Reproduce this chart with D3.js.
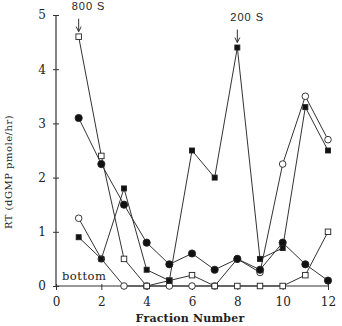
<!DOCTYPE html>
<html>
<head>
<meta charset="utf-8">
<script src="https://cdn.jsdelivr.net/npm/d3@7"></script>
<style>
  body { margin: 0; background: #fff; }
  svg { display: block; }
</style>
</head>
<body>
<div id="container"></div>
<script>
const fractions = [1, 2, 3, 4, 5, 6, 7, 8, 9, 10, 11, 12];
const openSquare = [4.6, 2.4, 0.5, 0, 0.1, 0.2, 0, 0, 0, 0, 0.2, 1.0];
const filledCircle = [3.1, 2.25, 1.5, 0.8, 0.4, 0.6, 0.3, 0.5, 0.3, 0.8, 0.4, 0.1];
const filledSquare = [0.9, 0.5, 1.8, 0.3, 0.1, 2.5, 2.0, 4.4, 0.5, 0.7, 3.3, 2.5];
const openCircle = [1.25, 0.5, 0, 0, 0, 0, 0, 0.5, 0.25, 2.25, 3.5, 2.7];
const xTicks = [0, 2, 4, 6, 8, 10, 12];
const yTicks = [0, 1, 2, 3, 4, 5];
const markers = [
  { label: "800 S", fraction: 1, value: 4.6 },
  { label: "200 S", fraction: 8, value: 4.4 }
];

const w = 342;
const h = 326;

const svg = d3.select("#container")
  .append("svg")
  .attr("width", w)
  .attr("height", h);

const x = d3.scaleLinear().domain([0, 12]).range([56, 328]);
const y = d3.scaleLinear().domain([0, 5]).range([286, 15]);

// axes
const yAxis = svg.append("g")
  .attr("transform", `translate(${x(0)},0)`)
  .call(d3.axisLeft(y).tickValues(yTicks).tickSize(3).tickFormat(d3.format("d")));
yAxis.selectAll(".tick line").attr("x1", 3).attr("x2", -3);
const xAxis = svg.append("g")
  .attr("transform", `translate(0,${y(0)})`)
  .call(d3.axisBottom(x).tickValues(xTicks).tickSize(4).tickFormat(d3.format("d")));
xAxis.selectAll(".tick line").attr("y1", -2).attr("y2", 4);

[yAxis, xAxis].forEach(a => {
  a.select(".domain").attr("stroke", "#333").attr("stroke-width", 1.2);
  a.selectAll(".tick line").attr("stroke", "#333");
  a.selectAll(".tick text")
    .attr("fill", "#222")
    .style("font-family", "DejaVu Serif")
    .style("font-size", "12px");
});
xAxis.select(".domain").attr("d", `M${x(0)},0H${x(12)}`);
yAxis.select(".domain").attr("d", `M0,${y(5)}V${y(0)}`);
yAxis.selectAll(".tick text").attr("x", -10);
xAxis.selectAll(".tick text").attr("y", 11);

// titles
svg.append("text")
  .attr("x", 190)
  .attr("y", 322)
  .attr("text-anchor", "middle")
  .style("font-family", "DejaVu Serif")
  .style("font-weight", "bold")
  .style("font-size", "11px")
  .style("letter-spacing", "0.2px")
  .attr("fill", "#222")
  .text("Fraction Number");

svg.append("text")
  .attr("transform", "translate(12,172) rotate(-90)")
  .attr("text-anchor", "middle")
  .style("font-family", "DejaVu Serif")
  .style("font-size", "10px")
  .style("letter-spacing", "0.5px")
  .attr("fill", "#222")
  .text("RT (dGMP pmole/hr)");

svg.append("text")
  .attr("x", 62)
  .attr("y", 280)
  .style("font-family", "DejaVu Serif")
  .style("font-size", "11.5px")
  .style("letter-spacing", "0.5px")
  .attr("fill", "#222")
  .text("bottom");

// series lines
const series = [
  { values: openCircle, shape: "circle", fill: "#fff" },
  { values: openSquare, shape: "square", fill: "#fff" },
  { values: filledCircle, shape: "circle", fill: "#111" },
  { values: filledSquare, shape: "square", fill: "#111" }
];

const line = d3.line()
  .x((d, i) => x(fractions[i]))
  .y(d => y(d));

svg.selectAll("path.series")
  .data(series)
  .enter()
  .append("path")
  .attr("class", "series")
  .attr("d", d => line(d.values))
  .attr("fill", "none")
  .attr("stroke", "#333")
  .attr("stroke-width", 1);

series.forEach(s => {
  const g = svg.append("g");
  if (s.shape === "circle") {
    g.selectAll("circle")
      .data(s.values)
      .enter()
      .append("circle")
      .attr("cx", (d, i) => x(fractions[i]))
      .attr("cy", d => y(d))
      .attr("r", s.fill === "#fff" ? 3.3 : 3.6)
      .attr("fill", s.fill)
      .attr("stroke", "#222")
      .attr("stroke-width", 0.9);
  } else {
    const size = s.fill === "#fff" ? 5.5 : 5;
    g.selectAll("rect")
      .data(s.values)
      .enter()
      .append("rect")
      .attr("x", (d, i) => x(fractions[i]) - size / 2)
      .attr("y", d => y(d) - size / 2)
      .attr("width", size)
      .attr("height", size)
      .attr("fill", s.fill)
      .attr("stroke", "#222")
      .attr("stroke-width", 0.9);
  }
});

// peak annotations
markers.forEach(m => {
  const px = x(m.fraction);
  const start = y(m.value) - 18;
  svg.append("text")
    .attr("x", px - 7)
    .attr("y", start - 9)
    .style("font-family", "Liberation Sans")
    .style("font-size", "11px")
    .style("letter-spacing", "1px")
    .attr("fill", "#222")
    .text(m.label);
  svg.append("line")
    .attr("x1", px).attr("x2", px)
    .attr("y1", start).attr("y2", start + 13)
    .attr("stroke", "#333");
  svg.append("path")
    .attr("d", `M${px - 2.5},${start + 8}L${px},${start + 13}L${px + 2.5},${start + 8}`)
    .attr("fill", "none")
    .attr("stroke", "#333");
});
</script>
</body>
</html>
